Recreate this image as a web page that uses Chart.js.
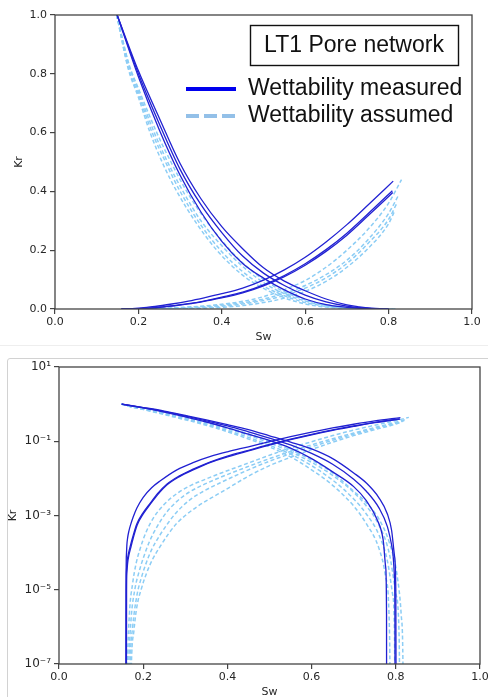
<!DOCTYPE html>
<html>
<head>
<meta charset="utf-8">
<script src="https://cdn.jsdelivr.net/npm/chart.js@4"></script>
<style>
  html, body { margin: 0; padding: 0; width: 488px; height: 697px; overflow: hidden; background: #fff; }
  body { position: relative; }
  #topChart { position: absolute; left: 0; top: 0; }
  #sep { position: absolute; left: 0; top: 345px; width: 488px; height: 1px; background: #eee; }
  #box { position: absolute; left: 7px; top: 358px; width: 500px; height: 400px; border: 1px solid #d2d2d2; border-radius: 3px; }
  #logChart { position: absolute; left: 0; top: 345px; }
</style>
</head>
<body>
<canvas id="topChart" width="488" height="345"></canvas>
<div id="sep"></div>
<div id="box"></div>
<canvas id="logChart" width="500" height="360"></canvas>
<script>
// ---------------------------Data (Sw, Kr)---------------------------
// measured wettability - water curves
const measuredWater1 = [[0.159,1e-9],[0.1595,3e-5],[0.1602,9e-5],[0.1612,1.6e-4],[0.163,2.5e-4],[0.166,3.8e-4],[0.17,5.6e-4],[0.176,9e-4],[0.185,1.6e-3],[0.2,3.1e-3],[0.22,5.6e-3],[0.24,8.5e-3],[0.28,0.017],[0.32,0.027],[0.36,0.039],[0.4,0.052],[0.45,0.071],[0.5,0.098],[0.55,0.133],[0.6,0.176],[0.65,0.228],[0.7,0.287],[0.75,0.353],[0.811,0.435]];
const measuredWater2 = [[0.159,1e-9],[0.1595,1e-5],[0.1602,3.2e-5],[0.162,6e-5],[0.165,9.5e-5],[0.169,1.45e-4],[0.175,2.6e-4],[0.185,6e-4],[0.2,1.2e-3],[0.216,2.1e-3],[0.235,4e-3],[0.256,7e-3],[0.285,0.0115],[0.32,0.018],[0.36,0.028],[0.4,0.04],[0.45,0.057],[0.5,0.082],[0.55,0.114],[0.6,0.154],[0.65,0.202],[0.7,0.258],[0.75,0.323],[0.809,0.402]];
const measuredWater3 = [[0.16,1e-9],[0.1605,1e-5],[0.1612,2.8e-5],[0.163,5.2e-5],[0.166,8.5e-5],[0.17,1.3e-4],[0.176,2.4e-4],[0.186,5.6e-4],[0.2,1.1e-3],[0.216,1.95e-3],[0.235,3.7e-3],[0.256,6.6e-3],[0.285,0.011],[0.32,0.0172],[0.36,0.027],[0.4,0.038],[0.45,0.055],[0.5,0.079],[0.55,0.11],[0.6,0.149],[0.65,0.196],[0.7,0.251],[0.75,0.316],[0.81,0.396]];

// measured wettability - oil curves
const measuredOil1 = [[0.149,1.0],[0.2,0.79],[0.25,0.61],[0.3,0.455],[0.35,0.33],[0.4,0.23],[0.45,0.155],[0.5,0.105],[0.55,0.065],[0.6,0.034],[0.65,0.015],[0.7,0.006],[0.73,0.0025],[0.755,8e-4],[0.77,2.2e-4],[0.776,4e-5],[0.778,2e-6],[0.7782,1e-9]];
const measuredOil2 = [[0.149,1.0],[0.2,0.8],[0.25,0.63],[0.3,0.475],[0.35,0.355],[0.4,0.26],[0.45,0.18],[0.5,0.122],[0.55,0.08],[0.6,0.047],[0.65,0.024],[0.7,0.0095],[0.73,0.0045],[0.76,0.0016],[0.78,5e-4],[0.792,1.2e-4],[0.797,2e-5],[0.798,1e-6],[0.7982,1e-9]];
const measuredOil3 = [[0.149,1.0],[0.2,0.81],[0.25,0.65],[0.3,0.495],[0.35,0.375],[0.4,0.28],[0.45,0.205],[0.5,0.14],[0.55,0.095],[0.6,0.062],[0.65,0.034],[0.7,0.014],[0.73,0.0075],[0.76,0.003],[0.78,0.0011],[0.79,4e-4],[0.797,8e-5],[0.8,1e-5],[0.8005,1e-7],[0.8007,1e-9]];

// assumed wettability - water curves
const assumedWater1 = [[0.161,1e-9],[0.163,1e-7],[0.167,2e-6],[0.175,1.5e-5],[0.183,5e-5],[0.192,1.2e-4],[0.207,3.6e-4],[0.224,8.5e-4],[0.25,2e-3],[0.28,3.9e-3],[0.31,6.2e-3],[0.343,9e-3],[0.382,0.0135],[0.45,0.026],[0.5,0.042],[0.55,0.066],[0.6,0.097],[0.65,0.142],[0.7,0.2],[0.75,0.27],[0.8,0.36],[0.831,0.44]];
const assumedWater2 = [[0.163,1e-9],[0.166,1e-7],[0.171,1.5e-6],[0.18,1e-5],[0.19,3e-5],[0.2,7e-5],[0.215,2e-4],[0.232,4.8e-4],[0.255,1.2e-3],[0.28,2.4e-3],[0.31,4.3e-3],[0.34,6.5e-3],[0.382,0.0105],[0.45,0.021],[0.5,0.034],[0.55,0.053],[0.6,0.08],[0.65,0.117],[0.7,0.166],[0.75,0.235],[0.8,0.325],[0.823,0.385]];
const assumedWater3 = [[0.166,1e-9],[0.169,1e-7],[0.175,1e-6],[0.185,7e-6],[0.195,2e-5],[0.205,4.5e-5],[0.22,1.2e-4],[0.24,3e-4],[0.26,6.5e-4],[0.28,1.25e-3],[0.31,2.6e-3],[0.34,4.3e-3],[0.382,7.5e-3],[0.45,0.017],[0.5,0.029],[0.55,0.046],[0.6,0.071],[0.65,0.106],[0.7,0.155],[0.75,0.222],[0.8,0.305],[0.82,0.36]];
const assumedWater4 = [[0.169,1e-9],[0.172,1e-7],[0.178,8e-7],[0.185,3.5e-6],[0.196,1.1e-5],[0.208,2.8e-5],[0.222,6.5e-5],[0.24,1.45e-4],[0.26,3.2e-4],[0.28,6.2e-4],[0.3,1e-3],[0.327,1.7e-3],[0.355,2.7e-3],[0.382,4e-3],[0.45,0.0115],[0.5,0.022],[0.55,0.037],[0.6,0.06],[0.65,0.094],[0.7,0.142],[0.75,0.205],[0.8,0.29],[0.815,0.335]];

// assumed wettability - oil curves
const assumedOil1 = [[0.148,1.0],[0.175,0.82],[0.2,0.72],[0.228,0.6],[0.26,0.49],[0.292,0.4],[0.34,0.29],[0.388,0.2],[0.45,0.115],[0.5,0.07],[0.55,0.038],[0.6,0.017],[0.65,0.0065],[0.7,0.0018],[0.73,6e-4],[0.76,1.3e-4],[0.775,2.5e-5],[0.784,2e-6],[0.786,1e-7],[0.787,1e-9]];
const assumedOil2 = [[0.148,1.0],[0.176,0.82],[0.2,0.73],[0.233,0.6],[0.265,0.5],[0.3,0.4],[0.35,0.285],[0.4,0.195],[0.45,0.127],[0.5,0.078],[0.55,0.045],[0.6,0.022],[0.65,0.009],[0.7,0.0028],[0.73,1.1e-3],[0.76,3e-4],[0.78,6e-5],[0.792,8e-6],[0.797,5e-7],[0.798,1e-9]];
const assumedOil3 = [[0.148,1.0],[0.177,0.83],[0.2,0.74],[0.238,0.6],[0.27,0.5],[0.307,0.4],[0.35,0.3],[0.41,0.2],[0.45,0.145],[0.5,0.09],[0.55,0.052],[0.6,0.027],[0.65,0.012],[0.7,0.0042],[0.73,1.8e-3],[0.76,5.5e-4],[0.785,9e-5],[0.8,8e-6],[0.808,5e-7],[0.81,1e-9]];
const assumedOil4 = [[0.148,1.0],[0.178,0.83],[0.2,0.75],[0.244,0.6],[0.278,0.5],[0.316,0.4],[0.36,0.305],[0.42,0.2],[0.45,0.157],[0.5,0.1],[0.55,0.059],[0.6,0.031],[0.65,0.014],[0.7,0.0045],[0.73,2.2e-3],[0.76,8e-4],[0.785,1.8e-4],[0.803,2.5e-5],[0.813,2e-6],[0.817,1e-7],[0.818,1e-9]];

const measuredCurves = [measuredWater1, measuredWater2, measuredWater3, measuredOil1, measuredOil2, measuredOil3];
const assumedCurves = [assumedWater1, assumedWater2, assumedWater3, assumedWater4, assumedOil1, assumedOil2, assumedOil3, assumedOil4];

const swTicks = [0, 0.2, 0.4, 0.6, 0.8, 1.0];
const krLinTicks = [0, 0.2, 0.4, 0.6, 0.8, 1.0];
const krLogTicks = [1e-7, 1e-5, 1e-3, 1e-1, 10];
const krLogLabels = ["10\u207b\u2077", "10\u207b\u2075", "10\u207b\u00b3", "10\u207b\u00b9", "10\u00b9"];

const legendTitle = "LT1 Pore network";
const legendLabels = ["Wettability measured", "Wettability assumed"];
// ----------------------------------------------------------------------------------------------

const MEASURED_COLOR = "#2121d2";
const ASSUMED_COLOR = "#8ccdf5";
const TICK_FONT = { family: "DejaVu Sans", size: 11 };

function buildDatasets() {
  const sets = [];
  // measured first so they sit on top of the dashed ones
  measuredCurves.forEach((c) => {
    sets.push({
      data: c.map((p) => ({ x: p[0], y: p[1] })),
      borderColor: MEASURED_COLOR,
      borderWidth: 1.3,
      pointRadius: 0,
      cubicInterpolationMode: "monotone",
      fill: false,
    });
  });
  assumedCurves.forEach((c) => {
    sets.push({
      data: c.map((p) => ({ x: p[0], y: p[1] })),
      borderColor: ASSUMED_COLOR,
      borderWidth: 1.5,
      borderDash: [4, 2.5],
      pointRadius: 0,
      cubicInterpolationMode: "monotone",
      fill: false,
    });
  });
  return sets;
}

// draws the full box round the plot like matplotlib spines
const frame = {
  id: "frame",
  afterDraw(chart) {
    const { ctx, chartArea: a } = chart;
    ctx.save();
    ctx.strokeStyle = "#444";
    ctx.lineWidth = 1.3;
    ctx.strokeRect(a.left, a.top, a.right - a.left, a.bottom - a.top);
    ctx.restore();
  },
};

// text box + legend inside the top plot
const keyBox = {
  id: "keyBox",
  afterDraw(chart) {
    const { ctx, chartArea: a } = chart;
    const bx = a.left + 195, by = a.top + 10;
    ctx.save();
    ctx.strokeStyle = "#111";
    ctx.lineWidth = 1.4;
    ctx.strokeRect(bx + 0.5, by + 0.5, 208, 40);
    ctx.fillStyle = "#111";
    ctx.font = "23px 'Liberation Sans', Arial, sans-serif";
    ctx.textAlign = "center";
    ctx.textBaseline = "middle";
    ctx.fillText(legendTitle, bx + 104, by + 21);

    const lx = a.left + 131, ly1 = a.top + 74, ly2 = a.top + 101;
    ctx.lineWidth = 4;
    ctx.strokeStyle = "#0000ee";
    ctx.beginPath(); ctx.moveTo(lx, ly1); ctx.lineTo(lx + 50, ly1); ctx.stroke();
    ctx.strokeStyle = "#93c0e8";
    ctx.setLineDash([13, 5]);
    ctx.beginPath(); ctx.moveTo(lx, ly2); ctx.lineTo(lx + 50, ly2); ctx.stroke();
    ctx.setLineDash([]);
    ctx.font = "23px 'Liberation Sans', Arial, sans-serif";
    ctx.textAlign = "left";
    ctx.fillText(legendLabels[0], lx + 62, ly1);
    ctx.fillText(legendLabels[1], lx + 62, ly2);
    ctx.restore();
  },
};

function xScale(height, titlePad) {
  return {
    type: "linear",
    min: 0,
    max: 1,
    afterBuildTicks: (s) => { s.ticks = swTicks.map((v) => ({ value: v })); },
    afterFit: (s) => { s.height = height; },
    border: { display: false },
    grid: { drawOnChartArea: false, drawTicks: true, tickLength: 5, color: "#444", lineWidth: 1.2 },
    ticks: { font: TICK_FONT, color: "#262626", padding: 2, maxRotation: 0, callback: (v) => v.toFixed(1) },
    title: { display: true, text: "Sw", font: TICK_FONT, color: "#262626", padding: { top: 0, bottom: titlePad } },
  };
}

// ---------------------------Linear Kr chart------------------------------------------------
new Chart(document.getElementById("topChart").getContext("2d"), {
  type: "line",
  data: { datasets: buildDatasets() },
  options: {
    responsive: false,
    animation: false,
    layout: { padding: { left: 0, right: 16, top: 15, bottom: 0 } },
    plugins: { legend: { display: false }, tooltip: { enabled: false } },
    scales: {
      x: xScale(36, 1.4),
      y: {
        type: "linear",
        min: 0,
        max: 1,
        afterBuildTicks: (s) => { s.ticks = krLinTicks.map((v) => ({ value: v })); },
        afterFit: (s) => { s.width = 55; },
        border: { display: false },
        grid: { drawOnChartArea: false, drawTicks: true, tickLength: 5, color: "#444", lineWidth: 1.2 },
        ticks: { font: TICK_FONT, color: "#262626", padding: 3, callback: (v) => v.toFixed(1) },
        title: { display: true, text: "Kr", font: TICK_FONT, color: "#262626", padding: { top: 13, bottom: 0 } },
      },
    },
  },
  plugins: [frame, keyBox],
});

// ---------------------------Log Kr chart------------------------------------------------
new Chart(document.getElementById("logChart").getContext("2d"), {
  type: "line",
  data: { datasets: buildDatasets() },
  options: {
    responsive: false,
    animation: false,
    layout: { padding: { left: 0, right: 20, top: 22, bottom: 0 } },
    plugins: { legend: { display: false }, tooltip: { enabled: false } },
    scales: {
      x: xScale(41, 6.4),
      y: {
        type: "logarithmic",
        min: 1e-7,
        max: 10,
        afterBuildTicks: (s) => { s.ticks = krLogTicks.map((v) => ({ value: v })); },
        afterFit: (s) => { s.width = 59; },
        border: { display: false },
        grid: { drawOnChartArea: false, drawTicks: true, tickLength: 5, color: "#444", lineWidth: 1.2 },
        ticks: {
          font: { family: "DejaVu Sans", size: 12 },
          color: "#262626",
          padding: 3,
          callback: (v) => { const i = krLogTicks.indexOf(v); return i >= 0 ? krLogLabels[i] : ""; },
        },
        title: { display: true, text: "Kr", font: TICK_FONT, color: "#262626", padding: { top: 7, bottom: 0 } },
      },
    },
  },
  plugins: [frame],
});
</script>
</body>
</html>
